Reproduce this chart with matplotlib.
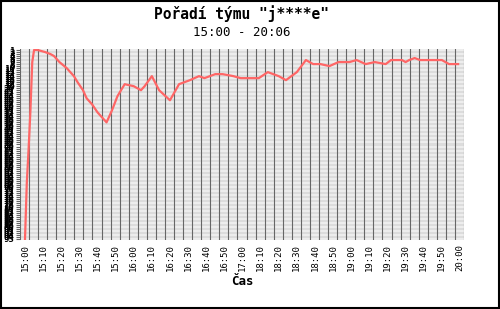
import matplotlib
matplotlib.use('Agg')
import matplotlib.pyplot as plt
from matplotlib.patches import Rectangle

# sampled times (real clock time) and team rank at that time
times = ['15:00', '15:01', '15:02', '15:03', '15:04', '15:05', '15:07', '15:11',
         '15:14', '15:16', '15:19', '15:23', '15:27', '15:29', '15:32', '15:34',
         '15:37', '15:40', '15:44', '15:45', '15:48', '15:51', '15:55', '16:00',
         '16:04', '16:06', '16:10', '16:14', '16:20', '16:25', '16:31', '16:36',
         '16:39', '16:45', '16:49', '16:55', '16:59', '18:09', '18:14', '18:20',
         '18:24', '18:30', '18:35', '18:39', '18:43', '18:48', '18:53', '18:59',
         '19:03', '19:08', '19:13', '19:19', '19:22', '19:25', '19:28', '19:30',
         '19:32', '19:35', '19:38', '19:43', '19:50', '19:52', '19:54', '19:59']
ranks = [95, 67, 50, 31, 7, 1, 1, 2,
         3, 4, 7, 10, 14, 17, 21, 25,
         28, 32, 36, 37, 31, 24, 18, 19,
         21, 19, 14, 21, 26, 18, 16, 14,
         15, 13, 13, 14, 15, 15, 12, 14,
         16, 12, 6, 8, 8, 9, 7, 7,
         6, 8, 7, 8, 6, 6, 6, 7,
         6, 5, 6, 6, 6, 7, 8, 8]

xlabels = ['15:00', '15:10', '15:20', '15:30', '15:40', '15:50', '16:00', '16:10',
           '16:20', '16:30', '16:40', '16:50', '17:00', '18:10', '18:20', '18:30',
           '18:40', '18:50', '19:00', '19:10', '19:20', '19:30', '19:40', '19:50',
           '20:00']
n_teams = 95


def pos(t):
    # minutes after 15:00, with the 17:00-18:00 hour removed from the axis
    h, m = t.split(':')
    v = (int(h) - 15) * 60 + int(m)
    if v >= 180:
        v -= 60
    return v


fig = plt.figure(figsize=[5.0, 3.09], dpi=100)
ax = fig.add_axes([0.04, 1 - 240/309., 0.888, 191/309.])

mono = 'DejaVu Sans Mono'

# striped background, one band per rank
for r in range(1, n_teams + 1):
    ax.axhspan(r - 0.5, r + 0.5, color='#ededed' if r % 2 else '#dcdcdc', lw=0, zorder=0)

x0 = -2.76
for j in range(50):
    ax.axvline(x0 + 5*j, color='#666666', lw=0.8, zorder=1)

x = [pos(t) for t in times]
ax.plot(x, ranks, color='#ff6666', lw=1.6, zorder=3, solid_joinstyle='round')

ax.set_xlim(x0, x0 + 245)
ax.set_ylim(n_teams + 0.5, 0.5)
for s in ax.spines.values():
    s.set_visible(False)

ax.set_xticks([10*k for k in range(len(xlabels))])
ax.set_xticklabels(xlabels, rotation=90, family=mono, fontsize=6.5)
ax.tick_params(axis='x', length=0, pad=3)

# the rank labels are packed so tightly they merge into a dark band, as in the original
ax.set_yticks(range(1, n_teams + 1))
ax.set_yticklabels([str(r) for r in range(1, n_teams + 1)], family=mono,
                   fontsize=6.5, fontweight='bold')
ax.tick_params(axis='y', length=3, width=0.8, color='#666666', pad=1)

ax.set_xlabel('Čas', family=mono, fontsize=9, fontweight='bold', labelpad=3)

cx = (20 + 464) / 2. / 500
fig.text(cx, 1 - 14/309., 'Pořadí týmu "j****e"', family=mono, fontsize=10.5,
         fontweight='bold', ha='center', va='center')
fig.text(cx, 1 - 33/309., '15:00 - 20:06', family=mono, fontsize=9,
         ha='center', va='center')

fig.patches.append(Rectangle((0.001, 0.002), 0.997, 0.996, transform=fig.transFigure,
                             fill=False, ec='black', lw=1.5))

fig.savefig('out.png', dpi=100)
